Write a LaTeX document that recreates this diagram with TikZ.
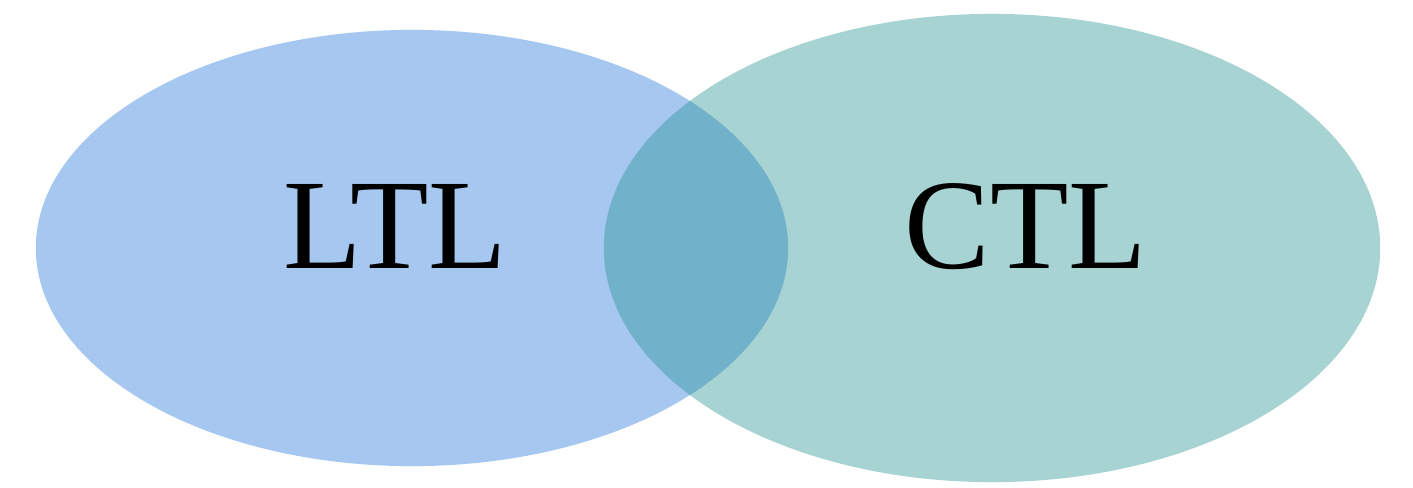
\documentclass[tikz,border=0pt]{standalone}
\usepackage{fontspec}
\setmainfont{Liberation Serif}
\usetikzlibrary{shapes.geometric}
\definecolor{setblue}{RGB}{33,115,218}
\definecolor{setteal}{RGB}{35,145,145}
\begin{document}
\begin{tikzpicture}[x=0.01cm, y=-0.01cm, set/.style={ellipse, inner sep=0pt, fill opacity=0.4}, lbl/.style={anchor=base, inner sep=0pt, font=\fontsize{36.5}{40}\selectfont}]
	\useasboundingbox (0,0) rectangle (1413,487);
	\node[set, fill=setblue, minimum width=7.52cm, minimum height=4.36cm] (ltl) at (412,248) {};
	\node[set, fill=setteal, minimum width=7.76cm, minimum height=4.68cm] (ctl) at (992,248) {};
	\node[lbl] (ltltext) at (395,268) {LTL};
	\node[lbl] (ctltext) at (1026,268) {CTL};
\end{tikzpicture}
\end{document}
